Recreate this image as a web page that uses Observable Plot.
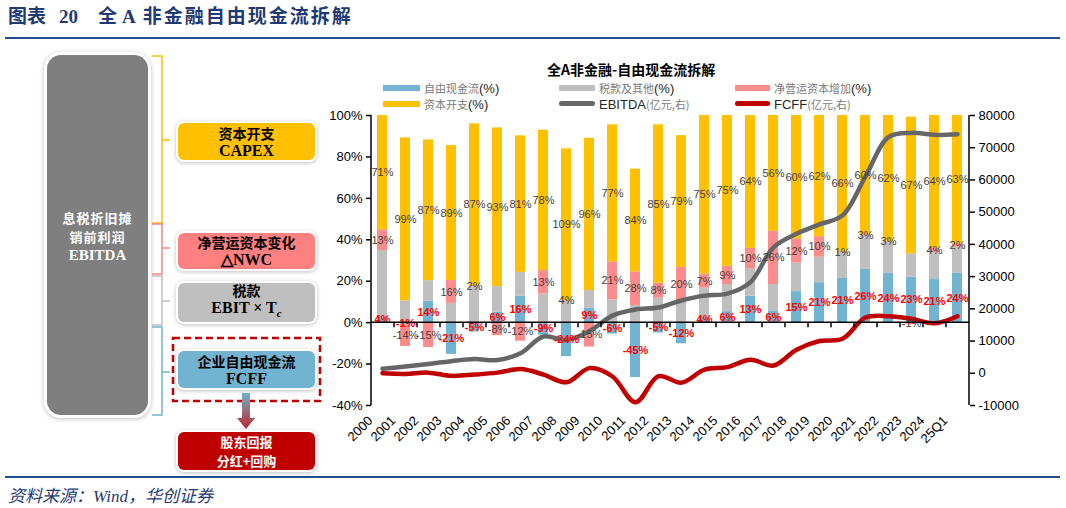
<!DOCTYPE html>
<html><head><meta charset="utf-8">
<script src="https://cdn.jsdelivr.net/npm/d3@7"></script>
<script src="https://cdn.jsdelivr.net/npm/@observablehq/plot@0.6"></script>
<style>
body{margin:0;width:1066px;height:508px;position:relative;background:#fff;overflow:hidden;font-family:"Liberation Sans",Arial,"Noto Sans CJK SC",sans-serif}
.abs{position:absolute}
.title{left:8px;top:5px;color:#1f3a73;font-weight:700;font-size:19px;line-height:24px;white-space:nowrap;font-family:"Liberation Serif","Noto Sans CJK SC",serif}
.box{position:absolute;left:178px;width:137px;border-radius:6px;display:flex;flex-direction:column;justify-content:center;align-items:center;box-shadow:0 0 0 2px #fff,0 1px 4px 2px rgba(0,0,0,.25);font-weight:700;line-height:17px;color:#000}
.cjk{font-family:"Noto Sans CJK SC",sans-serif;font-size:14px;line-height:17px}
.lat{font-family:"Liberation Serif",serif;font-size:16px;line-height:17px}
.leg{position:absolute;font-size:13px;color:#262626;white-space:nowrap;line-height:14px}
.leg .c{color:#7a7a7a;font-family:"Noto Sans CJK SC",sans-serif;font-size:11px}
.sw{position:absolute;height:6px}
.ln{position:absolute;height:5px;border-radius:3px}
</style></head><body>

<div class="abs title"><span>图表</span><span style="margin-left:13px">20</span><span style="margin-left:20px">全</span><span style="margin-left:5px">A</span><span style="margin-left:7px;letter-spacing:2px">非金融自由现金流拆解</span></div>
<div class="abs" style="left:5px;top:37px;width:1055px;height:2px;background:#1f4e8c"></div>

<!-- left diagram -->
<div class="abs" style="left:47px;top:55px;width:101px;height:360px;border-radius:14px;background:#7f7f7f;box-shadow:0 0 0 3px #fff,0 1px 5px 3px rgba(0,0,0,.25)"></div>
<div class="abs" style="left:47px;top:208px;width:101px;text-align:center;color:#fff;font-weight:700">
  <div class="cjk" style="font-size:13px;line-height:19px;letter-spacing:1px">息税折旧摊</div>
  <div class="cjk" style="font-size:13px;line-height:19px;letter-spacing:1px">销前利润</div>
  <div class="lat" style="font-size:15px;line-height:19px">EBITDA</div>
</div>
<svg class="abs" style="left:0;top:0" width="330" height="508">
  <defs><linearGradient id="ag" x1="0" y1="0" x2="0" y2="1"><stop offset="0" stop-color="#71b3d0"/><stop offset="1" stop-color="#c0262a"/></linearGradient></defs>
  <g fill="none" stroke-width="1.5">
    <path d="M152,56 H162 V223 H152 M162,140 H170" stroke="#ffc000"/>
    <path d="M152,224 H162 V274 H152 M162,248 H170" stroke="#ff8080"/>
    <path d="M152,276 H162 V325 H152 M162,301 H170" stroke="#bfbfbf"/>
    <path d="M152,327 H162 V415 H152 M162,372 H170" stroke="#71b3d0"/>
  </g>
  <rect x="173" y="338" width="147" height="63" fill="none" stroke="#c00000" stroke-width="2.5" stroke-dasharray="7,4"/>
  <path d="M242,393 H250 V418 H255 L246,429 L237,418 H242 Z" fill="url(#ag)"/>
</svg>
<div class="box" style="top:123px;height:37px;background:#ffc000"><span class="cjk">资本开支</span><span class="lat">CAPEX</span></div>
<div class="box" style="top:233px;height:36px;background:#ff8080"><span class="cjk">净营运资本变化</span><span class="lat">△NWC</span></div>
<div class="box" style="top:283px;height:39px;background:#bfbfbf"><span class="cjk">税款</span><span class="lat">EBIT × T<sub style="font-style:italic;font-size:11px">c</sub></span></div>
<div class="box" style="top:351px;height:37px;background:#71b3d0"><span class="cjk">企业自由现金流</span><span class="lat">FCFF</span></div>
<div class="box" style="top:432px;height:38px;background:#c00000;color:#fff"><span class="cjk" style="font-size:13px;line-height:19px">股东回报</span><span class="cjk" style="font-size:13px;line-height:19px">分红+回购</span></div>

<!-- chart title & legend -->
<div class="abs" style="left:547px;top:62px;font-family:'Noto Sans CJK SC',sans-serif;font-weight:700;font-size:14px;line-height:15px;white-space:nowrap">全A非金融-自由现金流拆解</div>
<div class="sw" style="left:383px;top:85px;width:37px;background:#71b3d0"></div>
<div class="leg" style="left:424px;top:81px"><span class="c">自由现金流</span>(%)</div>
<div class="sw" style="left:559px;top:85px;width:36px;background:#bfbfbf"></div>
<div class="leg" style="left:599px;top:81px"><span class="c">税款及其他</span>(%)</div>
<div class="sw" style="left:735px;top:85px;width:35px;background:#ff8c8c"></div>
<div class="leg" style="left:774px;top:81px"><span class="c">净营运资本增加</span>(%)</div>
<div class="sw" style="left:383px;top:101px;width:37px;background:#ffc000"></div>
<div class="leg" style="left:424px;top:97px"><span class="c">资本开支</span>(%)</div>
<div class="ln" style="left:559px;top:101px;width:36px;background:#666"></div>
<div class="leg" style="left:599px;top:97px">EBITDA<span class="c">(亿元,右)</span></div>
<div class="ln" style="left:735px;top:101px;width:35px;background:#c00000"></div>
<div class="leg" style="left:774px;top:97px">FCFF<span class="c">(亿元,右)</span></div>

<div id="chart" class="abs" style="left:320px;top:105px"></div>

<div class="abs" style="left:5px;top:476px;width:1055px;height:2px;background:#1f4e8c"></div>
<div class="abs" style="left:8px;top:482px;color:#1f3a73;font-style:italic;font-size:17px;white-space:nowrap;font-family:'Liberation Serif','Noto Sans CJK SC',serif">资料来源：Wind，华创证券</div>

<script>
const years = ["2000","2001","2002","2003","2004","2005","2006","2007","2008","2009","2010","2011","2012","2013","2014","2015","2016","2017","2018","2019","2020","2021","2022","2023","2024","25Q1"];
// stacked bar segments (% , visible height)
const fcf   = [3, -1, 10.3, -15.3, -4.5, 5, 12.7, -6, -16.4, 6.9, -5.5, -26.5, -5, -10.2, 2.8, 5.3, 12.8, 5.4, 15, 19.3, 21.3, 25.7, 23.8, 21.9, 20.8, 23.8];
const tax   = [31.8, 10.5, 10, 9.3, 17.4, 12.4, 11.6, 13.9, 10.3, 8.6, 11, 8.2, 11.8, 9.8, 13.9, 13.1, 13.1, 13, 13.7, 12.3, 12.2, 16.3, 15, 11.3, 12.9, 12.6];
const nwc   = [10, -10.5, -12, 11, 0.5, -6.3, -9, 11.2, 0.4, -11.8, 18.3, 16.3, 7.2, 16.9, 6.8, 8.8, 10, 25.7, 11.7, 9.9, 0.8, 0.5, 0.5, -1, 2.4, 1.6];
const capex = [55.2, 78.7, 67.9, 65.2, 78.1, 76.6, 65.9, 67.8, 73.2, 73.5, 66.2, 49.6, 76.5, 63.6, 76.5, 72.8, 64.1, 55.9, 59.6, 58.5, 65.7, 57.5, 60.7, 66, 63.9, 62];
// data labels
const fcfLabels   = ["4%","-1%","14%","-21%","-5%","6%","16%","-9%","-24%","9%","-6%","-45%","-5%","-12%","4%","6%","13%","6%","15%","21%","21%","26%","24%","23%","21%","24%"];
const nwcLabels   = ["13%","-14%","-15%","16%","2%","-8%","-12%","13%","4%","-15%","21%","28%","8%","20%","7%","9%","10%","26%","12%","10%","1%","3%","3%","-1%","4%","2%"];
const capexLabels = ["71%","99%","87%","89%","87%","93%","81%","78%","109%","96%","77%","84%","85%","79%","75%","75%","64%","56%","60%","62%","66%","60%","62%","67%","64%","63%"];
// lines (亿元, right axis)
const ebitda = [1400, 2100, 2900, 3760, 4400, 4100, 6200, 11400, 10300, 13100, 17900, 19800, 20400, 22600, 24100, 24700, 28300, 39100, 43300, 46200, 49000, 61100, 73300, 74600, 74000, 74200];
const fcff   = [0, -200, 200, -800, -400, 200, 1300, -400, -2800, 1600, -1000, -9000, -900, -2900, 1100, 1900, 4200, 2400, 7300, 10000, 10700, 17300, 17700, 16900, 15500, 17700];
const leftTicks  = [-40, -20, 0, 20, 40, 60, 80, 100];
const rightTicks = [-10000, 0, 10000, 20000, 30000, 40000, 50000, 60000, 70000, 80000];

const names  = ["自由现金流", "税款及其他", "净营运资本增加", "资本开支"];
const colors = ["#71b3d0", "#bfbfbf", "#ff8c8c", "#ffc000"];

// right axis mapped onto the left scale
const rMin = -10000, rMax = 80000, lMin = -40, lMax = 100;
const toL = v => lMin + (v - rMin) * (lMax - lMin) / (rMax - rMin);
const toR = p => rMin + (p - lMin) * (rMax - rMin) / (lMax - lMin);

const rows = [];
[[fcf, fcfLabels], [tax, null], [nwc, nwcLabels], [capex, capexLabels]].forEach(([vals, labs], s) => {
  vals.forEach((v, i) => rows.push({year: years[i], series: names[s], value: v, label: labs ? labs[i] : ""}));
});
const lineRows = years.map((y, i) => ({year: y, ebitda: toL(ebitda[i]), fcff: toL(fcff[i])}));

const W = 700, H = 340, mL = 51, mR = 51, mT = 10, mB = 40;

const axisLines = (index, scales, values, dims) => {
  const g = d3.create("svg:g").attr("stroke", "#000").attr("stroke-width", 1.5);
  const L = dims.marginLeft, R = dims.width - dims.marginRight;
  const y = scales.y;
  g.append("line").attr("x1", L).attr("x2", L).attr("y1", y(lMax)).attr("y2", y(lMin));
  g.append("line").attr("x1", R).attr("x2", R).attr("y1", y(lMax)).attr("y2", y(lMin));
  g.append("line").attr("x1", L).attr("x2", R).attr("y1", y(0)).attr("y2", y(0));
  const step = (R - L) / years.length;
  for (let k = 1; k < years.length; k++) {
    g.append("line").attr("x1", L + k * step).attr("x2", L + k * step).attr("y1", y(0)).attr("y2", y(0) + 5);
  }
  return g.node();
};

const chart = Plot.plot({
  width: W, height: H,
  marginLeft: mL, marginRight: mR, marginTop: mT, marginBottom: mB,
  x: {domain: years, paddingInner: 0.56, paddingOuter: 0.28, axis: null},
  y: {domain: [lMin, lMax], axis: null},
  color: {domain: names, range: colors},
  style: {fontFamily: "'Liberation Sans', Arial, sans-serif", fontSize: "13px", background: "transparent", color: "#000", overflow: "visible"},
  marks: [
    Plot.barY(rows, Plot.stackY({x: "year", y: "value", fill: "series", order: names})),
    Plot.line(lineRows, {x: "year", y: "ebitda", stroke: "#666666", strokeWidth: 4.5, curve: "catmull-rom"}),
    Plot.line(lineRows, {x: "year", y: "fcff", stroke: "#c00000", strokeWidth: 4.5, curve: "catmull-rom"}),
    Plot.text(rows, Plot.stackY({x: "year", y: "value", z: "series", order: names,
      text: d => d.series === names[0] ? "" : d.label, fill: "#404040", fontSize: 11})),
    Plot.text(rows, Plot.stackY({x: "year", y: "value", z: "series", order: names,
      text: d => d.series === names[0] ? d.label : "", fill: "#ff0000", fontWeight: "bold", fontSize: 11})),
    axisLines,
    Plot.axisY(leftTicks, {anchor: "left", tickFormat: d => d + "%", tickSize: 5, tickPadding: 4, strokeWidth: 1.5, fontSize: 13}),
    Plot.axisY(rightTicks.map(toL), {anchor: "right", tickFormat: d => String(Math.round(toR(d))), tickSize: 5, tickPadding: 4, strokeWidth: 1.5, fontSize: 13}),
    Plot.text(years, {x: d => d, text: d => d, frameAnchor: "bottom", rotate: -45, textAnchor: "end", lineAnchor: "middle", dx: -12, dy: 13, fontSize: 13})
  ]
});
chart.style.display = "block";
document.getElementById("chart").appendChild(chart);
</script>
</body></html>
